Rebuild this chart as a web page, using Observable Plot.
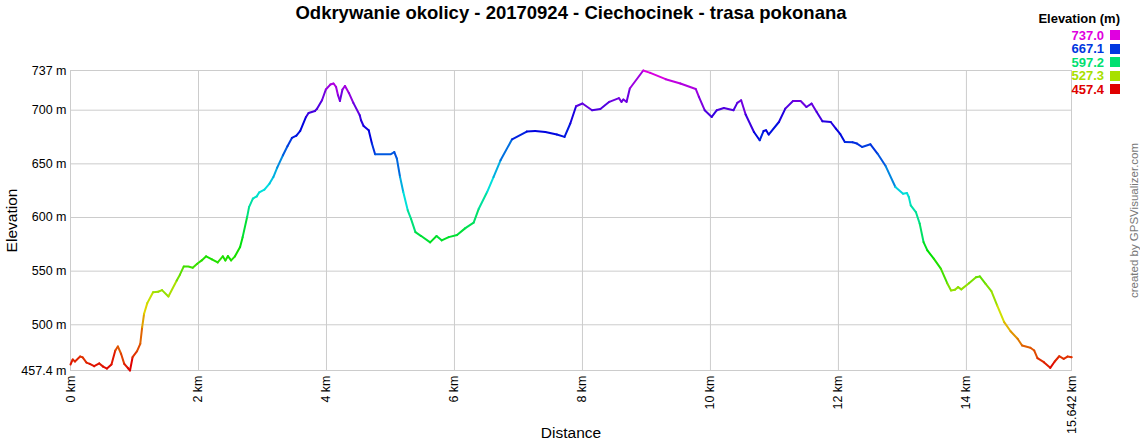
<!DOCTYPE html>
<html>
<head>
<meta charset="utf-8">
<script src="https://cdn.jsdelivr.net/npm/d3@7"></script>
<script src="https://cdn.jsdelivr.net/npm/@observablehq/plot@0.6"></script>
<style>
  html, body { margin: 0; padding: 0; background: #fff; }
  #wrap { position: relative; width: 1140px; height: 440px; font-family: "Liberation Sans", Arial, sans-serif; }
  #legend { position: absolute; right: 20px; top: 12px; text-align: right; font-weight: bold; font-size: 13px; line-height: 13.5px; }
  #legend .title { color: #000; margin-bottom: 3px; }
  #legend .row { display: flex; justify-content: flex-end; align-items: center; height: 13.5px; }
  #legend .sw { display: inline-block; width: 10px; height: 10px; margin-left: 6px; }
</style>
</head>
<body>
<div id="wrap"></div>
<script>
// Distance along the track (km)
const distanceKm = [0, 0.035, 0.07, 0.15, 0.19, 0.25, 0.30, 0.37, 0.45, 0.51, 0.57, 0.64, 0.70, 0.74, 0.79, 0.84, 0.90, 0.93, 0.97, 1.04,
  1.09, 1.12, 1.15, 1.20, 1.29, 1.37, 1.43, 1.53, 1.66, 1.71, 1.77, 1.84, 1.91, 1.98, 2.05, 2.12, 2.21, 2.30, 2.38, 2.42,
  2.46, 2.51, 2.57, 2.65, 2.69, 2.76, 2.79, 2.85, 2.91, 2.95, 3.03, 3.11, 3.17, 3.23, 3.32, 3.39, 3.46, 3.53, 3.59, 3.68,
  3.72, 3.82, 3.85, 3.93, 3.99, 4.06, 4.11, 4.15, 4.18, 4.21, 4.25, 4.29, 4.35, 4.42, 4.52, 4.54, 4.58, 4.66, 4.71, 4.76,
  5.00, 5.06, 5.10, 5.15, 5.20, 5.27, 5.32, 5.39, 5.48, 5.62, 5.72, 5.80, 5.91, 6.04, 6.17, 6.30, 6.38, 6.51, 6.61, 6.72,
  6.90, 7.13, 7.26, 7.42, 7.60, 7.72, 7.81, 7.90, 8.00, 8.15, 8.28, 8.42, 8.57, 8.61, 8.64, 8.69, 8.74, 8.95, 9.06, 9.30,
  9.53, 9.77, 9.82, 9.91, 10.02, 10.10, 10.21, 10.36, 10.42, 10.48, 10.55, 10.68, 10.77, 10.83, 10.87, 10.91, 11.07, 11.17, 11.29, 11.41,
  11.50, 11.58, 11.66, 11.75, 11.88, 11.96, 12.03, 12.10, 12.22, 12.29, 12.37, 12.50, 12.61, 12.74, 12.89, 13.01, 13.07, 13.10, 13.13, 13.21,
  13.27, 13.33, 13.39, 13.49, 13.60, 13.70, 13.76, 13.82, 13.87, 13.92, 14.04, 14.15, 14.21, 14.30, 14.39, 14.48, 14.59, 14.69, 14.80, 14.87,
  15.00, 15.06, 15.11, 15.21, 15.31, 15.38, 15.45, 15.52, 15.58, 15.642];
// Elevation (m)
const elevationM = [463.0, 467.7, 465.8, 470.4, 469.6, 464.8, 463.6, 461.4, 464.0, 461.0, 459.2, 463.0, 476.0, 479.8, 473.0, 463.6, 459.5, 457.4, 469.8, 475.4,
  482.3, 497.8, 510.3, 520.2, 530.4, 530.8, 532.3, 526.4, 541.3, 546.7, 554.4, 554.4, 553.2, 556.9, 560.0, 563.8, 561.0, 558.1, 563.8, 560.0,
  564.0, 560.0, 563.8, 572.4, 581.7, 600.4, 609.7, 617.6, 619.7, 623.5, 626.0, 631.6, 637.7, 646.5, 658.0, 666.4, 674.1, 676.3, 680.7, 693.7,
  697.4, 699.3, 701.2, 709.3, 719.3, 723.9, 724.9, 721.7, 714.0, 708.6, 719.3, 722.6, 716.1, 706.8, 695.3, 690.6, 685.3, 681.3, 668.9, 658.9,
  658.9, 661.0, 654.9, 637.7, 623.7, 606.7, 598.9, 586.4, 582.7, 576.8, 582.7, 578.7, 581.7, 583.6, 590.1, 595.2, 608.2, 623.7, 637.7, 653.3,
  672.9, 680.1, 680.6, 679.7, 677.3, 675.1, 687.6, 703.7, 706.2, 700.0, 701.2, 707.8, 711.2, 707.8, 710.0, 707.8, 720.2, 737.0, 734.8, 728.9,
  724.9, 719.8, 712.4, 700.0, 693.7, 700.0, 702.1, 700.0, 706.8, 709.3, 696.0, 679.7, 672.0, 680.6, 681.3, 677.3, 689.0, 701.5, 708.6, 708.6,
  703.0, 706.2, 698.4, 689.7, 689.0, 682.9, 677.6, 670.4, 670.1, 668.9, 665.7, 668.2, 659.6, 647.7, 628.4, 622.2, 622.8, 619.1, 611.3, 605.1,
  594.3, 577.1, 569.3, 561.6, 552.3, 538.8, 532.0, 532.6, 535.1, 533.0, 538.8, 544.4, 545.1, 538.2, 531.4, 518.0, 502.5, 494.0, 487.0, 480.7,
  478.6, 476.0, 468.9, 465.2, 459.9, 465.8, 470.7, 468.3, 470.4, 469.8];

const xTicks = [0, 2, 4, 6, 8, 10, 12, 14, 15.642];
const yTicks = [457.4, 500, 550, 600, 650, 700, 737];
const legendValues = [737.0, 667.1, 597.2, 527.3, 457.4];

const title = "Odkrywanie okolicy - 20170924 - Ciechocinek - trasa pokonana";
const xLabel = "Distance";
const yLabel = "Elevation";
const credit = "created by GPSVisualizer.com";
const legendTitle = "Elevation (m)";

const minE = 457.4, maxE = 737;
const rainbow = t => d3.hsl(300 * Math.max(0, Math.min(1, t)), 1, 0.44).formatHex();
const colorOf = v => rainbow((v - minE) / (maxE - minE));

const data = distanceKm.map((d, i) => ({d, e: elevationM[i]}));
const font = '"Liberation Sans", Arial, sans-serif';

const chart = Plot.plot({
  width: 1140,
  height: 440,
  marginLeft: 70,
  marginRight: 69,
  marginTop: 70,
  marginBottom: 70,
  style: {fontFamily: font, fontSize: "12.5px", background: "#fff", color: "#000"},
  x: {domain: [0, 15.642], ticks: xTicks, tickFormat: d => `${d} km`, tickRotate: -90, tickSize: 0, tickPadding: 5, label: null},
  y: {domain: [minE, maxE], ticks: yTicks, tickFormat: d => `${d} m`, tickSize: 0, tickPadding: 4, label: null},
  color: {type: "linear", domain: [minE, maxE], interpolate: rainbow},
  marks: [
    Plot.ruleX(xTicks, {stroke: "#cccccc", strokeWidth: 1}),
    Plot.ruleY(yTicks, {stroke: "#cccccc", strokeWidth: 1}),
    Plot.frame({stroke: "#cccccc"}),
    Plot.line(data, {x: "d", y: "e", z: null, stroke: "e", strokeWidth: 2}),
    Plot.text([title], {frameAnchor: "top", dy: -57, lineAnchor: "middle", textAnchor: "middle", fontSize: 18.5, fontWeight: "bold", fill: "#000"}),
    Plot.text([xLabel], {frameAnchor: "bottom", dy: 63, lineAnchor: "middle", textAnchor: "middle", fontSize: 15.5, fill: "#000"}),
    Plot.text([yLabel], {frameAnchor: "left", dx: -58, rotate: -90, lineAnchor: "middle", textAnchor: "middle", fontSize: 15.5, fill: "#000"}),
    Plot.text([credit], {frameAnchor: "right", dx: 63, rotate: -90, lineAnchor: "middle", textAnchor: "middle", fontSize: 11.5, fill: "#777"})
  ]
});

const wrap = document.getElementById("wrap");
wrap.appendChild(chart);

const legend = document.createElement("div");
legend.id = "legend";
legend.innerHTML = `<div class="title">${legendTitle}</div>` +
  legendValues.map(v => `<div class="row"><span style="color:${colorOf(v)}">${v.toFixed(1)}</span><span class="sw" style="background:${colorOf(v)}"></span></div>`).join("");
wrap.appendChild(legend);
</script>
</body>
</html>
